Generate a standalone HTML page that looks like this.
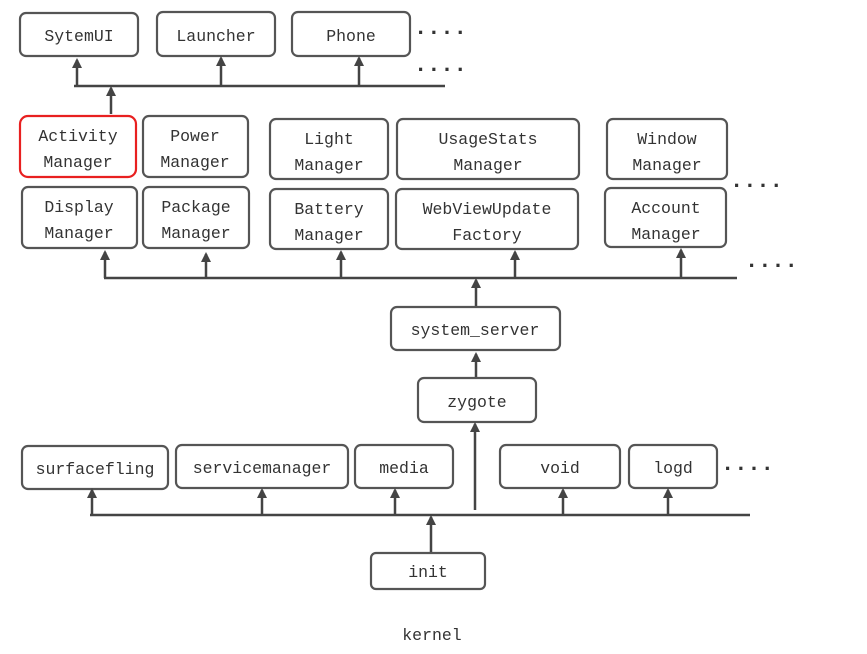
<!DOCTYPE html>
<html><head><meta charset="utf-8"><style>
html,body{margin:0;padding:0;background:#fff;}
svg{display:block;}
text{font-family:"Liberation Mono","DejaVu Sans Mono",monospace;font-size:16.5px;fill:#333;text-anchor:middle;}
.b{fill:#fff;stroke:#555;stroke-width:2.2;}
.l{stroke:#444;stroke-width:2.5;fill:none;}
.d{font-size:22px;font-weight:bold;fill:#333;text-anchor:start;}
</style></head><body>
<svg width="867" height="654" viewBox="0 0 867 654" xmlns="http://www.w3.org/2000/svg">
<defs><marker id="a" markerWidth="10" markerHeight="10" refX="8" refY="5" orient="auto" markerUnits="userSpaceOnUse" viewBox="0 0 10 10"><path d="M0,0 L10,5 L0,10 Z" fill="#444"/></marker></defs>
<!-- top row -->
<rect class="b" x="20" y="13" width="118" height="43" rx="6"/><text x="79" y="41">SytemUI</text>
<rect class="b" x="157" y="12" width="118" height="44" rx="6"/><text x="216" y="41">Launcher</text>
<rect class="b" x="292" y="12" width="118" height="44" rx="6"/><text x="351" y="41">Phone</text>
<text class="d" x="414" y="34">....</text>
<text class="d" x="414" y="71">....</text>
<line class="l" x1="74" y1="86" x2="445" y2="86"/>
<line class="l" x1="77" y1="86" x2="77" y2="60" marker-end="url(#a)"/>
<line class="l" x1="221" y1="86" x2="221" y2="58" marker-end="url(#a)"/>
<line class="l" x1="359" y1="86" x2="359" y2="58" marker-end="url(#a)"/>
<line class="l" x1="111" y1="114" x2="111" y2="88" marker-end="url(#a)"/>
<!-- managers -->
<rect x="20" y="116" width="116" height="61" rx="8" fill="#fff" stroke="#e82020" stroke-width="2.2"/><text x="78" y="141">Activity</text><text x="78" y="167">Manager</text>
<rect class="b" x="143" y="116" width="105" height="61" rx="6"/><text x="195" y="141">Power</text><text x="195" y="167">Manager</text>
<rect class="b" x="270" y="119" width="118" height="60" rx="6"/><text x="329" y="144">Light</text><text x="329" y="170">Manager</text>
<rect class="b" x="397" y="119" width="182" height="60" rx="6"/><text x="488" y="144">UsageStats</text><text x="488" y="170">Manager</text>
<rect class="b" x="607" y="119" width="120" height="60" rx="6"/><text x="667" y="144">Window</text><text x="667" y="170">Manager</text>
<rect class="b" x="22" y="187" width="115" height="61" rx="6"/><text x="79" y="212">Display</text><text x="79" y="238">Manager</text>
<rect class="b" x="143" y="187" width="106" height="61" rx="6"/><text x="196" y="212">Package</text><text x="196" y="238">Manager</text>
<rect class="b" x="270" y="189" width="118" height="60" rx="6"/><text x="329" y="214">Battery</text><text x="329" y="240">Manager</text>
<rect class="b" x="396" y="189" width="182" height="60" rx="6"/><text x="487" y="214">WebViewUpdate</text><text x="487" y="240">Factory</text>
<rect class="b" x="605" y="188" width="121" height="59" rx="6"/><text x="666" y="213">Account</text><text x="666" y="239">Manager</text>
<text class="d" x="730" y="187">....</text>
<text class="d" x="745" y="267">....</text>
<line class="l" x1="104" y1="278" x2="737" y2="278"/>
<line class="l" x1="105" y1="278" x2="105" y2="252" marker-end="url(#a)"/>
<line class="l" x1="206" y1="278" x2="206" y2="254" marker-end="url(#a)"/>
<line class="l" x1="341" y1="278" x2="341" y2="252" marker-end="url(#a)"/>
<line class="l" x1="515" y1="278" x2="515" y2="252" marker-end="url(#a)"/>
<line class="l" x1="681" y1="278" x2="681" y2="250" marker-end="url(#a)"/>
<line class="l" x1="476" y1="306" x2="476" y2="280" marker-end="url(#a)"/>
<rect class="b" x="391" y="307" width="169" height="43" rx="6"/><text x="475" y="335">system_server</text>
<line class="l" x1="476" y1="378" x2="476" y2="354" marker-end="url(#a)"/>
<rect class="b" x="418" y="378" width="118" height="44" rx="6"/><text x="477" y="407">zygote</text>
<line class="l" x1="475" y1="510" x2="475" y2="424" marker-end="url(#a)"/>
<!-- native -->
<rect class="b" x="22" y="446" width="146" height="43" rx="6"/><text x="95" y="474">surfacefling</text>
<rect class="b" x="176" y="445" width="172" height="43" rx="6"/><text x="262" y="473">servicemanager</text>
<rect class="b" x="355" y="445" width="98" height="43" rx="6"/><text x="404" y="473">media</text>
<rect class="b" x="500" y="445" width="120" height="43" rx="6"/><text x="560" y="473">void</text>
<rect class="b" x="629" y="445" width="88" height="43" rx="6"/><text x="673" y="473">logd</text>
<text class="d" x="721" y="470">....</text>
<line class="l" x1="90" y1="515" x2="750" y2="515"/>
<line class="l" x1="92" y1="515" x2="92" y2="490" marker-end="url(#a)"/>
<line class="l" x1="262" y1="515" x2="262" y2="490" marker-end="url(#a)"/>
<line class="l" x1="395" y1="515" x2="395" y2="490" marker-end="url(#a)"/>
<line class="l" x1="563" y1="515" x2="563" y2="490" marker-end="url(#a)"/>
<line class="l" x1="668" y1="515" x2="668" y2="490" marker-end="url(#a)"/>
<line class="l" x1="431" y1="552" x2="431" y2="517" marker-end="url(#a)"/>
<rect class="b" x="371" y="553" width="114" height="36" rx="5"/><text x="428" y="577">init</text>
<text x="432" y="640">kernel</text>
</svg>
</body></html>
